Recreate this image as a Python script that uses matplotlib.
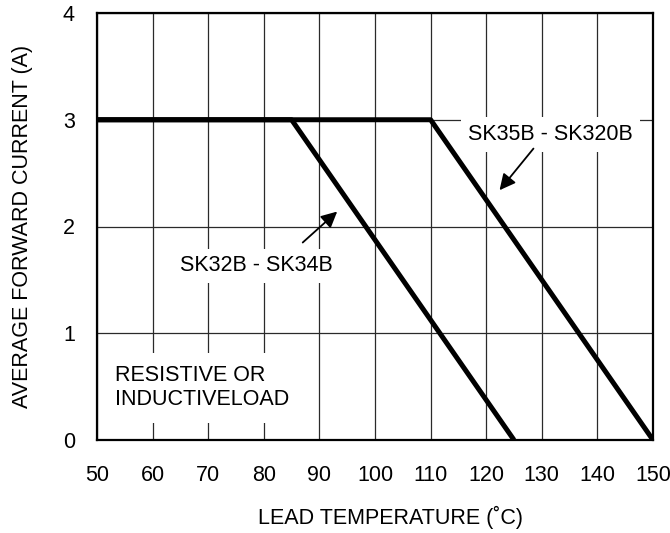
import matplotlib
matplotlib.use("Agg")
import matplotlib.pyplot as plt

# Data
temps_sk32 = [50, 85, 125]
current_sk32 = [3, 3, 0]
temps_sk35 = [50, 110, 150]
current_sk35 = [3, 3, 0]
x_ticks = [50, 60, 70, 80, 90, 100, 110, 120, 130, 140, 150]
y_ticks = [0, 1, 2, 3, 4]

plt.rcParams['font.family'] = ['Liberation Sans', 'DejaVu Sans']
FS = 15.5

fig = plt.figure(figsize=(6.7, 5.33), dpi=100)
ax = fig.add_axes([97/670, 1-440/533, 556/670, 427/533])

ax.set_xlim(50, 150)
ax.set_ylim(0, 4)
ax.set_xticks(x_ticks)
ax.set_yticks(y_ticks)
ax.tick_params(length=0, labelsize=FS)
ax.tick_params(axis='y', pad=16)
ax.tick_params(axis='x', pad=18)
ax.grid(True, color='#2a2a2a', linewidth=0.9, zorder=1)
ax.set_axisbelow(True)
for s in ax.spines.values():
    s.set_linewidth(1.6)
    s.set_color('black')

ax.plot(temps_sk35, current_sk35, color='black', lw=3.6, zorder=4, solid_capstyle='butt')
ax.plot(temps_sk32, current_sk32, color='black', lw=3.6, zorder=4, solid_capstyle='butt')

box = dict(facecolor='white', edgecolor='none', pad=5)
ax.text(131.6, 2.86, 'SK35B - SK320B', fontsize=FS, ha='center', va='center', bbox=box, zorder=3)
ax.text(78.6, 1.63, 'SK32B - SK34B', fontsize=FS, ha='center', va='center', bbox=box, zorder=3)
ax.text(53.2, 0.49, 'RESISTIVE OR\nINDUCTIVELOAD', fontsize=FS, ha='left', va='center',
        linespacing=1.2, bbox=dict(facecolor='white', edgecolor='none', pad=9), zorder=3)

arrow = dict(arrowstyle='-|>', color='black', lw=1.3, mutation_scale=24, shrinkA=0, shrinkB=0)
ax.annotate('', xy=(122.4, 2.34), xytext=(128.5, 2.73), arrowprops=arrow, zorder=5)
ax.annotate('', xy=(93.2, 2.14), xytext=(87.0, 1.85), arrowprops=arrow, zorder=5)

ax.text((390-97)/556, -(517-440)/427, 'LEAD TEMPERATURE (˚C)', transform=ax.transAxes,
        fontsize=FS, ha='center', va='center')
ax.text(-(97-23)/556, 0.5, 'AVERAGE FORWARD CURRENT (A)', transform=ax.transAxes,
        fontsize=FS, ha='center', va='center', rotation=90)

fig.savefig('out.png', dpi=100)
